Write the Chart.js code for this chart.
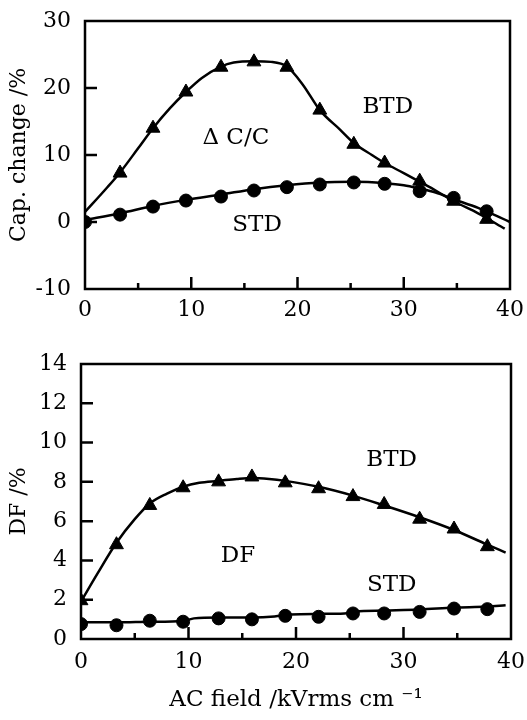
<!DOCTYPE html>
<html>
<head>
<meta charset="utf-8">
<script src="https://cdn.jsdelivr.net/npm/chart.js@4.4.0/dist/chart.umd.min.js"></script>
<style>
  body { margin: 0; background: #fff; }
  #wrap { position: relative; width: 527px; height: 720px; }
  canvas { position: absolute; left: 0; }
</style>
</head>
<body>
<div id="wrap">
  <canvas id="chart-cap" width="527" height="340" style="top:0"></canvas>
  <canvas id="chart-df" width="527" height="380" style="top:340px"></canvas>
</div>
<script>
// measured field steps (kVrms/cm)
var fieldPts = [0, 3.3, 6.4, 9.5, 12.8, 15.9, 19.0, 22.1, 25.3, 28.2, 31.5, 34.7, 37.8];

// capacitance change, %
var capBTD = [null, 7.3, 14.0, 19.4, 23.1, 23.9, 23.1, 16.7, 11.6, 8.8, 6.1, 3.1, 0.4];
var capSTD = [0, 1.1, 2.3, 3.2, 3.8, 4.7, 5.2, 5.6, 5.9, 5.7, 4.6, 3.6, 1.6];

// dissipation factor, %
var dfBTD = [1.95, 4.8, 6.8, 7.7, 8.0, 8.25, 7.95, 7.65, 7.25, 6.85, 6.1, 5.6, 4.7];
var dfSTD = [0.76, 0.7, 0.93, 0.88, 1.05, 1.0, 1.18, 1.13, 1.3, 1.3, 1.38, 1.55, 1.52];

// fitted curves
var capBtdFitX = [0, 2, 3.3, 5, 6.4, 8, 9.5, 11, 12.8, 14, 15.9, 17.5, 19, 20.5, 22.1, 24, 25.3, 27, 28.2, 30, 31.5, 33, 34.7, 37, 39.5];
var capBtdFit  = [1.5, 5, 7.4, 11, 14, 17, 19.4, 21.5, 23.2, 23.8, 24.0, 23.9, 23.2, 20.5, 16.7, 13.8, 11.8, 10, 8.8, 7.3, 6.0, 4.7, 3.1, 1.3, -1.0];
var capStdFitX = [0, 3.3, 6.4, 9.5, 12.8, 15.9, 19, 22.1, 25.3, 28.2, 30, 31.5, 33, 34.7, 37, 40];
var capStdFit  = [0.3, 1.3, 2.4, 3.3, 4.1, 4.9, 5.5, 5.9, 6.0, 5.8, 5.5, 5.0, 4.4, 3.4, 2.1, 0.0];

var dfBtdFitX = [0, 1.5, 3.3, 5, 6.4, 8, 9.5, 11, 12.8, 14.5, 15.9, 17.5, 19, 22.1, 25.3, 28.2, 31.5, 34.7, 37.8, 39.5];
var dfBtdFit  = [1.9, 3.3, 4.9, 6.1, 6.9, 7.4, 7.75, 7.95, 8.05, 8.15, 8.2, 8.15, 8.05, 7.75, 7.3, 6.8, 6.2, 5.55, 4.8, 4.4];
var dfStdFitX = [0, 3.3, 6.4, 9.5, 10.5, 12.8, 15.9, 18, 19.5, 22.1, 24.5, 25.5, 28.2, 31.5, 34.7, 37.8, 39.5];
var dfStdFit  = [0.85, 0.85, 0.88, 0.92, 1.05, 1.1, 1.1, 1.15, 1.25, 1.28, 1.3, 1.4, 1.45, 1.5, 1.6, 1.65, 1.72];

var serif = "'DejaVu Serif', 'Liberation Serif', serif";

function pts(xs, ys) {
    var out = [];
    for (var i = 0; i < xs.length; i++) {
        if (ys[i] !== null) out.push({ x: xs[i], y: ys[i] });
    }
    return out;
}

function curve(xs, ys) {
    return {
        type: 'line', data: pts(xs, ys), borderColor: '#000', borderWidth: 2.5,
        pointRadius: 0, cubicInterpolationMode: 'monotone', fill: false
    };
}

function markers(ys, style, r) {
    return {
        type: 'scatter', data: pts(fieldPts, ys), pointStyle: style, pointRadius: r,
        backgroundColor: '#000', borderColor: '#000', borderWidth: 1, showLine: false
    };
}

// frame, inward ticks and the text labels inside the plot
var framePlugin = {
    id: 'frame',
    afterDraw: function (chart, args, opts) {
        var ctx = chart.ctx, a = chart.chartArea;
        var xs = chart.scales.x, ys = chart.scales.y;
        ctx.save();
        ctx.strokeStyle = '#000';
        ctx.lineWidth = 2.5;
        ctx.strokeRect(a.left, a.top, a.right - a.left, a.bottom - a.top);
        ctx.beginPath();
        [5, 10, 15, 20, 25, 30, 35].forEach(function (v) {
            var px = xs.getPixelForValue(v);
            var len = v % 10 === 0 ? 12 : 6;
            ctx.moveTo(px, a.bottom);
            ctx.lineTo(px, a.bottom - len);
        });
        ys.ticks.forEach(function (t) {
            if (t.value === ys.min || t.value === ys.max) return;
            var py = ys.getPixelForValue(t.value);
            ctx.moveTo(a.left, py);
            ctx.lineTo(a.left + 12, py);
        });
        ctx.stroke();
        ctx.fillStyle = '#000';
        ctx.font = '23px ' + serif;
        ctx.textAlign = 'center';
        ctx.textBaseline = 'middle';
        (opts.notes || []).forEach(function (n) {
            ctx.fillText(n.text, xs.getPixelForValue(n.x), ys.getPixelForValue(n.y));
        });
        ctx.restore();
    }
};

function makeOptions(yMin, yMax, yStep, yTitle, xTitle, box, notes) {
    return {
        responsive: false,
        animation: false,
        layout: { padding: { top: box.top, right: box.right, left: 0, bottom: 0 } },
        plugins: {
            legend: { display: false },
            tooltip: { enabled: false },
            frame: { notes: notes }
        },
        scales: {
            x: {
                type: 'linear', min: 0, max: 40,
                grid: { display: false, drawTicks: false },
                border: { display: false },
                ticks: { stepSize: 10, padding: box.xPad, color: '#000', font: { family: serif, size: 22 } },
                title: {
                    display: !!xTitle, text: xTitle, color: '#000',
                    font: { family: serif, size: 23 }, padding: { top: 4, bottom: 6 }
                },
                afterFit: function (s) {
                    s.height = box.bottom;
                    s.paddingLeft = 0;
                    s.paddingRight = 0;
                }
            },
            y: {
                type: 'linear', min: yMin, max: yMax,
                grid: { display: false, drawTicks: false },
                border: { display: false },
                ticks: { stepSize: yStep, padding: 14, color: '#000', font: { family: serif, size: 22 } },
                title: {
                    display: true, text: yTitle, color: '#000',
                    font: { family: serif, size: 22 }, padding: { top: 6, bottom: 0 }
                },
                afterFit: function (s) {
                    s.width = box.left;
                    s.paddingTop = 0;
                    s.paddingBottom = 0;
                }
            }
        }
    };
}

var capCanvas = document.getElementById('chart-cap').getContext('2d');
var capChart = new Chart(capCanvas, {
    type: 'scatter',
    data: {
        datasets: [
            curve(capBtdFitX, capBtdFit),
            curve(capStdFitX, capStdFit),
            markers(capBTD, 'triangle', 8),
            markers(capSTD, 'circle', 6.5)
        ]
    },
    options: makeOptions(-10, 30, 10, 'Cap. change /%', '',
        { left: 85, top: 21, right: 17, bottom: 51, xPad: 8 },
        [
            { text: 'BTD', x: 28.5, y: 17.2 },
            { text: '\u0394 C/C', x: 14.2, y: 12.5 },
            { text: 'STD', x: 16.2, y: -0.5 }
        ]),
    plugins: [framePlugin]
});

var dfCanvas = document.getElementById('chart-df').getContext('2d');
var dfChart = new Chart(dfCanvas, {
    type: 'scatter',
    data: {
        datasets: [
            curve(dfBtdFitX, dfBtdFit),
            curve(dfStdFitX, dfStdFit),
            markers(dfBTD, 'triangle', 8),
            markers(dfSTD, 'circle', 6.5)
        ]
    },
    options: makeOptions(0, 14, 2, 'DF /%', 'AC field /kVrms cm \u207B\u00B9',
        { left: 81, top: 24, right: 16, bottom: 81, xPad: 10 },
        [
            { text: 'BTD', x: 28.9, y: 9.1 },
            { text: 'DF', x: 14.6, y: 4.2 },
            { text: 'STD', x: 28.9, y: 2.75 }
        ]),
    plugins: [framePlugin]
});
</script>
</body>
</html>
